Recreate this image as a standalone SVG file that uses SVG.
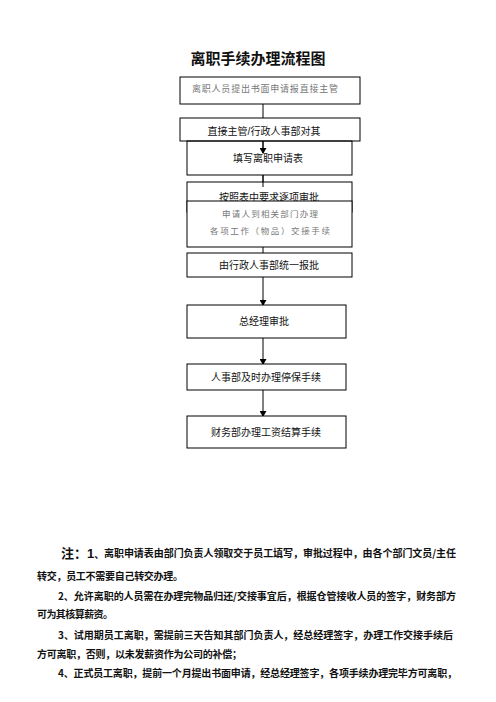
<svg xmlns="http://www.w3.org/2000/svg" width="496" height="702" viewBox="0 0 496 702">
<defs>
<marker id="arr" markerWidth="6" markerHeight="7" refX="5" refY="3.5" orient="auto" markerUnits="userSpaceOnUse">
<path d="M0,0 L6,3.5 L0,7 Z" fill="#000"/>
</marker>
<style>
.box{fill:#fff;stroke:#000;stroke-width:1}
.t{font-family:"Liberation Sans","Noto Sans CJK SC",sans-serif;font-size:10px;fill:#111;text-anchor:middle}
.g{font-family:"Noto Sans CJK SC",sans-serif;font-size:8.5px;fill:#777;text-anchor:middle}
.c{stroke:#000;stroke-width:1;fill:none}
.n{font-family:"Noto Sans CJK SC",sans-serif;font-size:10px;font-weight:700;fill:#111}
.big{font-size:13px}
.num{font-family:"Liberation Sans",sans-serif;font-size:13px}
</style>
</defs>
<rect width="496" height="702" fill="#fff"/>
<text x="258" y="64" font-family="Noto Sans CJK SC,sans-serif" font-size="15" font-weight="700" text-anchor="middle" fill="#111">离职手续办理流程图</text>

<g id="connectors">
<line class="c" x1="263" y1="104" x2="263" y2="118"/>
<line class="c" x1="263" y1="141" x2="263" y2="153" marker-end="url(#arr)"/>
<line class="c" x1="263" y1="175" x2="263" y2="190" marker-end="url(#arr)"/>
<line class="c" x1="263" y1="247" x2="263" y2="253"/>
<line class="c" x1="263" y1="277" x2="263" y2="305" marker-end="url(#arr)"/>
<line class="c" x1="263" y1="338" x2="263" y2="364" marker-end="url(#arr)"/>
<line class="c" x1="263" y1="390" x2="263" y2="416" marker-end="url(#arr)"/>
</g>

<g id="n1"><rect class="box" x="180" y="77" width="180" height="27"/>
<text class="g" x="265" y="92" style="font-size:9px" textLength="146" lengthAdjust="spacing">离职人员提出书面申请报直接主管</text></g>
<g id="n2"><rect class="box" x="180" y="118" width="180" height="23"/>
<text class="t" x="264" y="135">直接主管/行政人事部对其</text></g>
<g id="n3"><rect class="box" x="187" y="141" width="165" height="34" fill-opacity="0"/>
<text class="t" x="268" y="162">填写离职申请表</text></g>
<line class="c" x1="263" y1="141" x2="263" y2="150"/>
<g id="n4"><rect class="box" x="187" y="182" width="165" height="30"/>
<text class="t" x="269" y="201">按照表中要求逐项审批</text></g>
<g id="n5"><rect class="box" x="187" y="201" width="165" height="46"/>
<text class="g" x="270" y="217" textLength="96" lengthAdjust="spacing">申请人到相关部门办理</text>
<text class="g" x="270" y="234" textLength="120" lengthAdjust="spacing">各项工作（物品）交接手续</text></g>
<line class="c" x1="263" y1="175" x2="263" y2="187"/>
<g id="n6"><rect class="box" x="187" y="253" width="165" height="24"/>
<text class="t" x="269" y="269">由行政人事部统一报批</text></g>
<g id="n7"><rect class="box" x="187" y="305" width="159" height="33"/>
<text class="t" x="264" y="325">总经理审批</text></g>
<g id="n8"><rect class="box" x="187" y="364" width="159" height="26"/>
<text class="t" x="266" y="381">人事部及时办理停保手续</text></g>
<g id="n9"><rect class="box" x="187" y="416" width="159" height="32"/>
<text class="t" x="266" y="436">财务部办理工资结算手续</text></g>

<g id="notes">
<text class="n" x="61" y="558"><tspan class="big">注：</tspan><tspan class="num">1</tspan><tspan>、</tspan></text>
<text class="n" x="104" y="557" textLength="352" lengthAdjust="spacing">离职申请表由部门负责人领取交于员工填写，审批过程中，由各个部门文员/主任</text>
<text class="n" x="37" y="580" textLength="146" lengthAdjust="spacing">转交，员工不需要自己转交办理。</text>
<text class="n" x="58" y="600" textLength="398" lengthAdjust="spacing">2、允许离职的人员需在办理完物品归还/交接事宜后，根据仓管接收人员的签字，财务部方</text>
<text class="n" x="37" y="618" textLength="76" lengthAdjust="spacing">可为其核算薪资。</text>
<text class="n" x="58" y="639" textLength="395" lengthAdjust="spacing">3、试用期员工离职，需提前三天告知其部门负责人，经总经理签字，办理工作交接手续后</text>
<text class="n" x="37" y="658" textLength="205" lengthAdjust="spacing">方可离职，否则，以未发薪资作为公司的补偿；</text>
<text class="n" x="58" y="677" textLength="399" lengthAdjust="spacing">4、正式员工离职，提前一个月提出书面申请，经总经理签字，各项手续办理完毕方可离职，</text>
</g>
</svg>
